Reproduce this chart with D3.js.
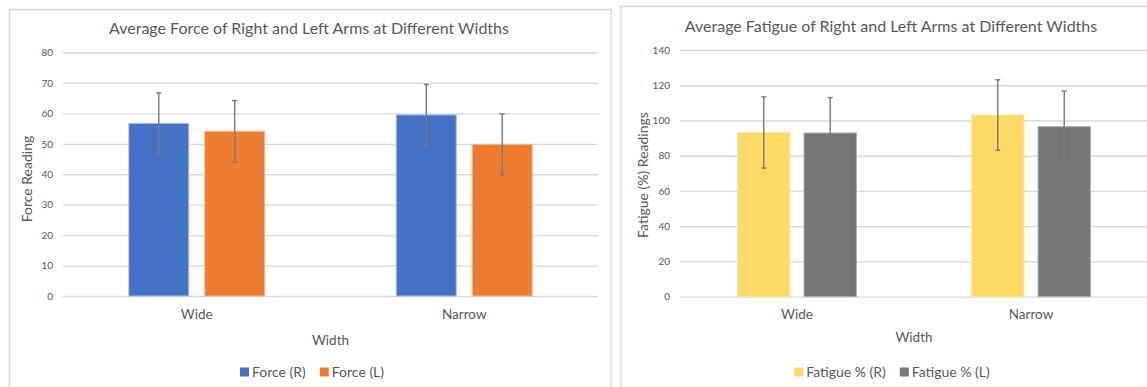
<!DOCTYPE html>
<html>
<head>
<meta charset="utf-8">
<script src="https://cdn.jsdelivr.net/npm/d3@7"></script>
<style>
  html, body { margin: 0; padding: 0; background: #ffffff; }
  svg { display: block; }
  text { font-family: Lato, "Open Sans", sans-serif; fill: #595959; }
</style>
</head>
<body>
<svg id="chart" width="1147" height="387"></svg>
<script>
// ---- data ----
const categories = ["Wide", "Narrow"];

const forceSeries = ["Force (R)", "Force (L)"];
const forceR = [56.7, 59.5];
const forceRErr = [10.0, 10.0];
const forceL = [54.1, 49.8];
const forceLErr = [10.1, 10.0];
const forceTicks = [0, 10, 20, 30, 40, 50, 60, 70, 80];

const fatigueSeries = ["Fatigue % (R)", "Fatigue % (L)"];
const fatigueR = [93.2, 103.1];
const fatigueRErr = [20.2, 20.0];
const fatigueL = [92.9, 96.5];
const fatigueLErr = [20.1, 20.2];
const fatigueTicks = [0, 20, 40, 60, 80, 100, 120, 140];

// ---- drawing ----
const svg = d3.select("#chart");

function drawChart(cfg) {
  const g = svg.append("g");
  // panel border
  g.append("rect")
    .attr("x", cfg.panel[0] + 0.5).attr("y", cfg.panel[1] + 0.5)
    .attr("width", cfg.panel[2]).attr("height", cfg.panel[3])
    .attr("fill", "#ffffff").attr("stroke", "#d9d9d9").attr("stroke-width", 1.5);

  const [x0, x1, yTop, yBot] = cfg.plot;
  const y = d3.scaleLinear().domain([0, d3.max(cfg.ticks)]).range([yBot, yTop]);
  const x = d3.scaleBand().domain(categories).range([x0, x1]).paddingInner(0).paddingOuter(0);
  const groupW = x.bandwidth() * 0.508;
  const xs = d3.scaleBand().domain(cfg.series).range([-groupW / 2, groupW / 2]).paddingInner(0.211).paddingOuter(0);

  // gridlines + y tick labels
  const yAxis = d3.axisLeft(y).tickValues(cfg.ticks).tickSize(-(x1 - x0)).tickPadding(10);
  const ya = g.append("g").attr("transform", `translate(${x0},0)`).call(yAxis);
  ya.select(".domain").remove();
  ya.selectAll(".tick line").attr("stroke", "#d9d9d9").attr("stroke-width", 1.3);
  ya.selectAll(".tick text").attr("font-size", 10).attr("fill", "#595959")
    .style("font-family", "Lato, 'Open Sans', sans-serif");

  // bars
  const rows = [];
  categories.forEach((c, i) => {
    cfg.series.forEach((s, j) => {
      rows.push({ cat: c, ser: s, v: cfg.values[j][i], e: cfg.errs[j][i], col: cfg.colors[j], edge: cfg.edges[j] });
    });
  });
  const bg = g.append("g");
  bg.selectAll("rect").data(rows).join("rect")
    .attr("x", d => x(d.cat) + x.bandwidth() / 2 + xs(d.ser))
    .attr("y", d => y(d.v))
    .attr("width", xs.bandwidth())
    .attr("height", d => y(0) - y(d.v))
    .attr("fill", d => d.col)
    .attr("stroke", d => d.edge).attr("stroke-width", 1);

  // error bars
  const eg = g.append("g").attr("stroke", "#7a7a7a").attr("stroke-width", 1.4);
  const cx = d => x(d.cat) + x.bandwidth() / 2 + xs(d.ser) + xs.bandwidth() / 2;
  eg.selectAll("line.v").data(rows).join("line").attr("class", "v")
    .attr("x1", cx).attr("x2", cx)
    .attr("y1", d => y(d.v + d.e)).attr("y2", d => y(d.v - d.e));
  eg.selectAll("line.t").data(rows).join("line").attr("class", "t")
    .attr("x1", d => cx(d) - 2.5).attr("x2", d => cx(d) + 2.5)
    .attr("y1", d => y(d.v + d.e)).attr("y2", d => y(d.v + d.e));
  eg.selectAll("line.b").data(rows).join("line").attr("class", "b")
    .attr("x1", d => cx(d) - 2.5).attr("x2", d => cx(d) + 2.5)
    .attr("y1", d => y(d.v - d.e)).attr("y2", d => y(d.v - d.e));

  // category axis
  const xAxis = d3.axisBottom(x).tickSize(0).tickPadding(13);
  const xa = g.append("g").attr("transform", `translate(0,${yBot})`).call(xAxis);
  xa.select(".domain").remove();
  xa.selectAll(".tick text").attr("font-size", 13.5).attr("fill", "#595959")
    .style("font-family", "Lato, 'Open Sans', sans-serif");

  // titles
  g.append("text").attr("x", cfg.titleX).attr("y", cfg.titleY)
    .attr("text-anchor", "middle").attr("font-size", 16).text(cfg.title);
  g.append("text").attr("x", (x0 + x1) / 2).attr("y", cfg.xTitleY)
    .attr("text-anchor", "middle").attr("font-size", 13.5).text("Width");
  g.append("text")
    .attr("transform", `translate(${cfg.yTitleX},${cfg.yTitleY}) rotate(-90)`)
    .attr("text-anchor", "middle").attr("font-size", 14).text(cfg.yTitle);

  // legend
  const lg = g.append("g");
  let lx = cfg.legendX;
  cfg.series.forEach((s, j) => {
    lg.append("rect").attr("x", lx).attr("y", cfg.legendY - 9.5).attr("width", 9).attr("height", 9)
      .attr("fill", cfg.colors[j]);
    const t = lg.append("text").attr("x", lx + 12).attr("y", cfg.legendY).attr("font-size", 14).text(s);
    lx += 12 + t.node().getComputedTextLength() + 14;
  });
  // center legend
  const totalW = lx - 14 - cfg.legendX;
  lg.attr("transform", `translate(${cfg.legendCenter - cfg.legendX - totalW / 2},0)`);
}

drawChart({
  panel: [9, 9, 602, 400],
  plot: [63, 598, 52.5, 296],
  ticks: forceTicks,
  series: forceSeries,
  values: [forceR, forceL],
  errs: [forceRErr, forceLErr],
  colors: ["#4472c4", "#ed7d31"],
  edges: ["#a9bde6", "#f6b88f"],
  title: "Average Force of Right and Left Arms at Different Widths",
  titleX: 309, titleY: 34,
  xTitleY: 345,
  yTitle: "Force Reading", yTitleX: 32, yTitleY: 179,
  legendX: 239, legendY: 377, legendCenter: 312
});

drawChart({
  panel: [620, 6, 560, 400],
  plot: [680, 1148, 50, 296.7],
  ticks: fatigueTicks,
  series: fatigueSeries,
  values: [fatigueR, fatigueL],
  errs: [fatigueRErr, fatigueLErr],
  colors: ["#ffd966", "#767676"],
  edges: ["#ffe8a6", "#b0b0b0"],
  title: "Average Fatigue of Right and Left Arms at Different Widths",
  titleX: 891, titleY: 32,
  xTitleY: 342,
  yTitle: "Fatigue (%) Readings", yTitleX: 648, yTitleY: 175,
  legendX: 791, legendY: 377, legendCenter: 892
});
</script>
</body>
</html>
